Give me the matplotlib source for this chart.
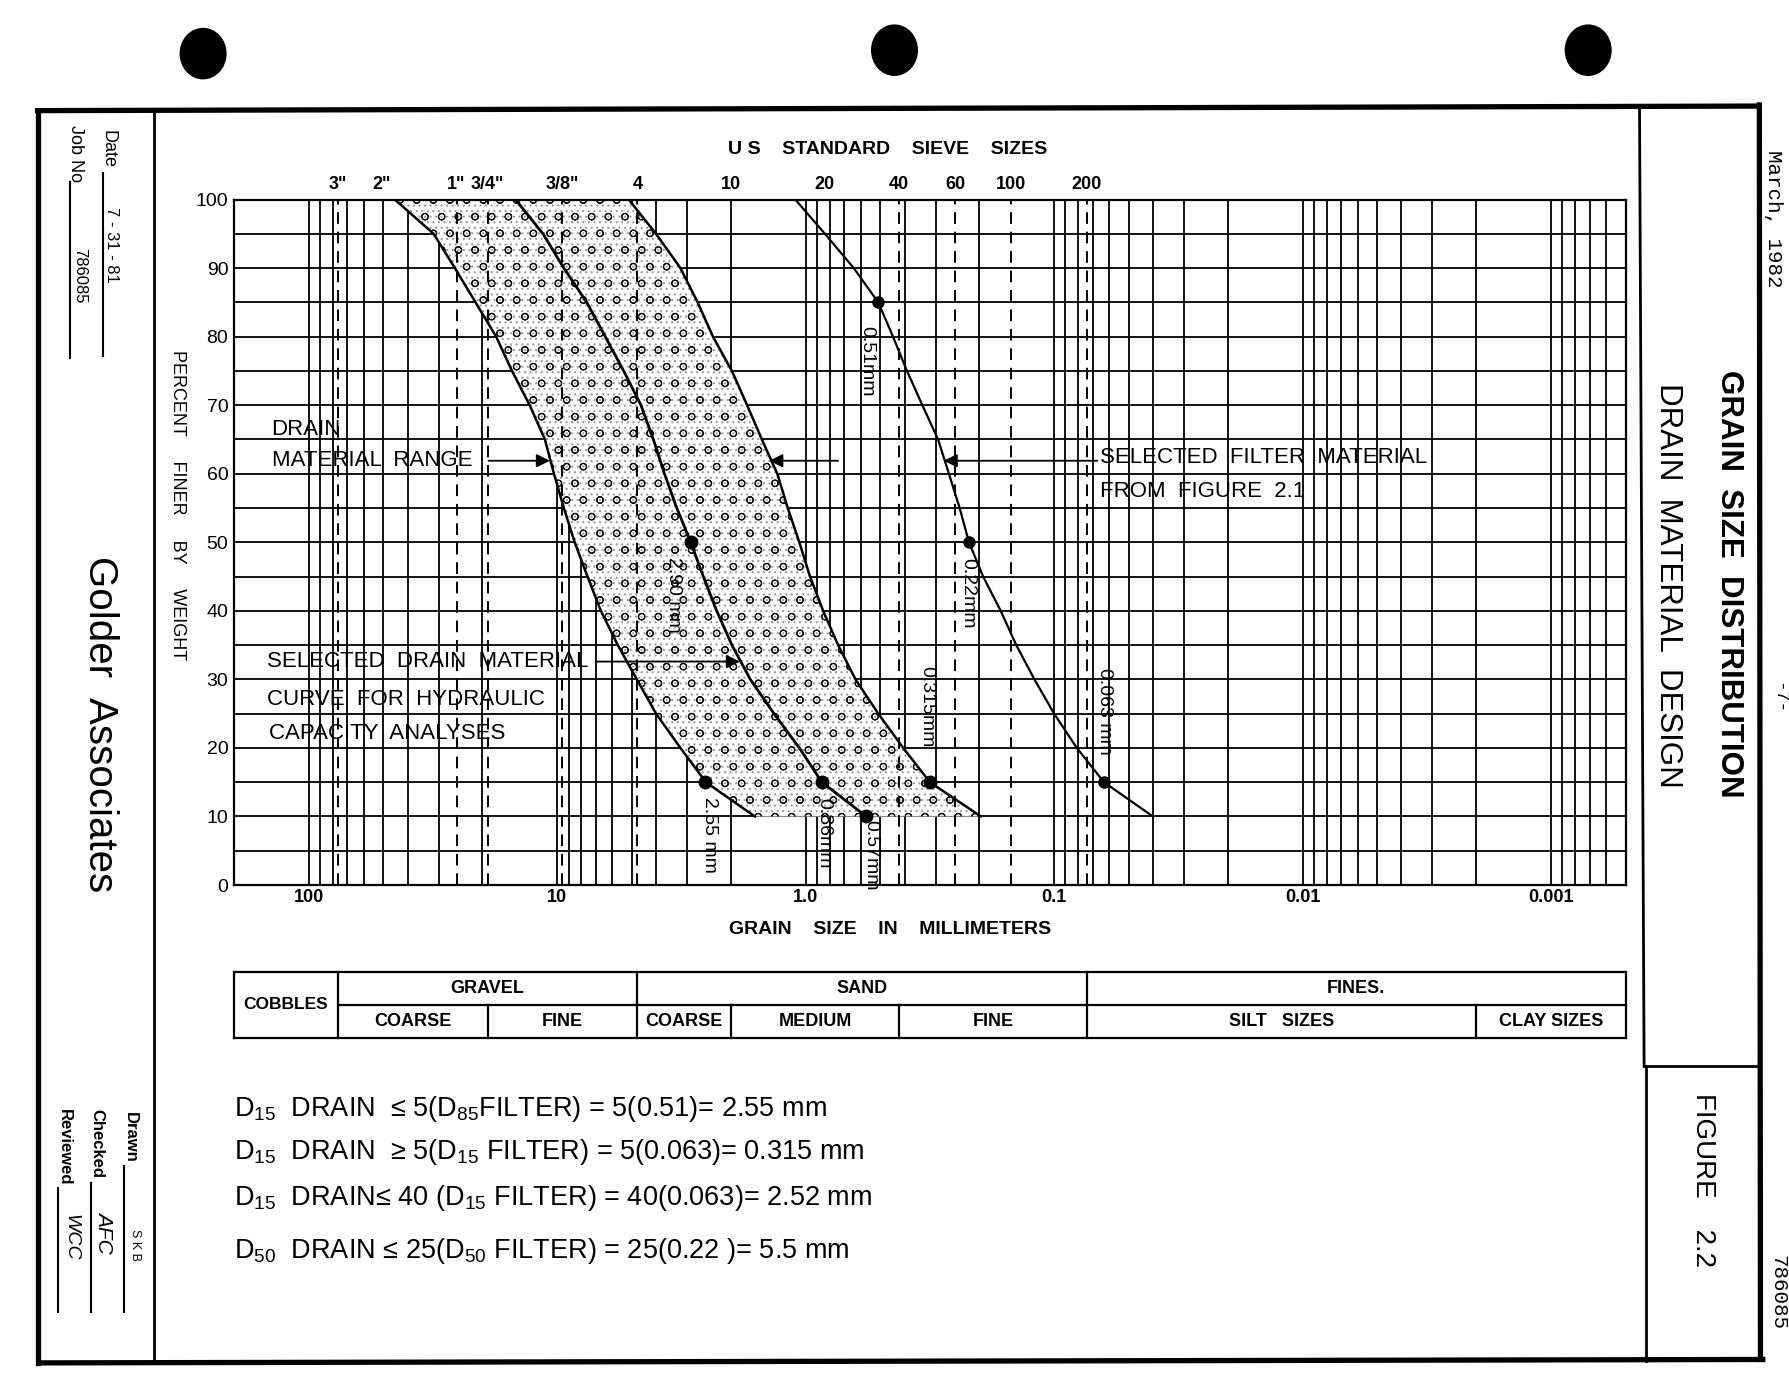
import numpy as np
import matplotlib
matplotlib.use("Agg")
import matplotlib.pyplot as plt
from matplotlib import font_manager
from matplotlib.lines import Line2D
from matplotlib.patches import Ellipse
from matplotlib.ticker import LogLocator, NullFormatter, MultipleLocator, FixedLocator

# ---------------- data ----------------
pct = [100, 95, 90, 85, 80, 75, 70, 65, 60, 55, 50, 45, 40, 35, 30, 25, 20, 15, 10]
band_coarse = [45.0, 31.4, 25.8, 21.3, 17.6, 15.2, 12.9, 11.2, 10.3, 9.4, 8.5, 7.55, 6.67, 5.7, 4.78, 4.0, 3.19, 2.52, 1.6]
band_fine = [5.15, 4.0, 3.19, 2.72, 2.36, 1.98, 1.72, 1.50, 1.30, 1.18, 1.06, 0.96, 0.85, 0.74, 0.63, 0.51, 0.405, 0.316, 0.197]
selected_drain = [14.7, 11.4, 9.4, 7.6, 6.4, 5.4, 4.6, 4.1, 3.7, 3.3, 2.9, 2.58, 2.28, 1.98, 1.67, 1.34, 1.06, 0.86, 0.57]
selected_filter = [1.1, 0.836, 0.64, 0.51, 0.445, 0.391, 0.339, 0.293, 0.265, 0.24, 0.22, 0.193, 0.164, 0.142, 0.120, 0.100, 0.081, 0.063, 0.040]

filter_pts_x = [0.51, 0.22, 0.063]
filter_pts_y = [85, 50, 15]
drain_pts_x = [2.90, 2.55, 0.86, 0.57, 0.315]
drain_pts_y = [50, 15, 15, 10, 15]

point_labels = ["0.51mm", "2.90 mm", "0.22mm", "0.315mm", "0.063 mm", "2.55 mm", "0.86mm", "0.57mm"]
point_label_x = [0.566, 3.41, 0.223, 0.324, 0.0628, 2.43, 0.845, 0.548]
point_label_y = [76.4, 42.3, 42.6, 26.0, 25.3, 7.3, 7.6, 4.3]

sieve_labels = ['3"', '2"', '1"', '3/4"', '3/8"', '4', '10', '20', '40', '60', '100', '200']
sieve_sizes = [76.2, 50.8, 25.4, 19.05, 9.525, 4.76, 2.0, 0.84, 0.42, 0.25, 0.149, 0.074]
dashed_sieves = [76.2, 25.4, 19.05, 9.525, 4.76, 0.42, 0.25, 0.149, 0.074]

xtick_vals = [100, 10, 1.0, 0.1, 0.01, 0.001]
xtick_labels = ["100", "10", "1.0", "0.1", "0.01", "0.001"]
ytick_vals = [0, 10, 20, 30, 40, 50, 60, 70, 80, 90, 100]

# soil classification table
top_groups = [("GRAVEL", 76.2, 4.76), ("SAND", 4.76, 0.074), ("FINES.", 0.074, 0.0005)]
bottom_groups = [("COARSE", 76.2, 19.05), ("FINE", 19.05, 4.76), ("COARSE", 4.76, 2.0),
                 ("MEDIUM", 2.0, 0.42), ("FINE", 0.42, 0.074), ("SILT   SIZES", 0.074, 0.002),
                 ("CLAY SIZES", 0.002, 0.0005)]

formulas = [
    "D$_{15}$  DRAIN  \u2264 5(D$_{85}$FILTER) = 5(0.51)= 2.55 mm",
    "D$_{15}$  DRAIN  \u2265 5(D$_{15}$ FILTER) = 5(0.063)= 0.315 mm",
    "D$_{15}$  DRAIN\u2264 40 (D$_{15}$ FILTER) = 40(0.063)= 2.52 mm",
    "D$_{50}$  DRAIN \u2264 25(D$_{50}$ FILTER) = 25(0.22 )= 5.5 mm",
]

# ---------------- fonts ----------------
names = {f.name for f in font_manager.fontManager.ttflist}
SANS = 'Liberation Sans' if 'Liberation Sans' in names else 'DejaVu Sans'
NARROW = 'Liberation Sans Narrow' if 'Liberation Sans Narrow' in names else SANS
MONO = 'Liberation Mono' if 'Liberation Mono' in names else 'DejaVu Sans Mono'
plt.rcParams['font.family'] = [SANS, 'DejaVu Sans']
plt.rcParams['mathtext.fontset'] = 'custom'
plt.rcParams['mathtext.rm'] = SANS
plt.rcParams['mathtext.it'] = SANS + ':italic'
plt.rcParams['mathtext.bf'] = SANS + ':bold'
plt.rcParams['mathtext.default'] = 'regular'
plt.rcParams['hatch.linewidth'] = 0.8

W, H = 1568.0, 1210.0


def fx(x):
    return x / W


def fy(y):
    return 1 - y / H


fig = plt.figure(figsize=(17.89, 13.80), dpi=100)
fig.patch.set_facecolor('white')


def fline(xs, ys, lw=3.0):
    fig.add_artist(Line2D([fx(v) for v in xs], [fy(v) for v in ys],
                          transform=fig.transFigure, color='black', lw=lw))


# binder holes
for (hx, hy) in [(178, 47), (784, 44), (1392, 44)]:
    fig.add_artist(Ellipse((fx(hx), fy(hy)), 40 / W, 44 / H, transform=fig.transFigure,
                           color='black'))

# outer frame
fline([33, 1541], [97, 93], lw=3.8)
fline([33, 33], [97, 1195], lw=3.8)
fline([36, 1545], [1195, 1192], lw=3.8)
fline([1542, 1543], [92, 1192], lw=3.8)
fline([135, 135], [97, 1195], lw=2.0)
fline([1437, 1441], [95, 935], lw=2.0)
fline([1441, 1542], [935, 935], lw=2.0)
fline([1443, 1443], [935, 1193], lw=2.0)

# ---------------- main chart ----------------
ax = fig.add_axes([fx(205), fy(776), (1425 - 205) / W, (776 - 175) / H])
ax.set_xscale('log')
ax.set_xlim(200, 0.0005)
ax.set_ylim(0, 100)
ax.xaxis.set_major_locator(FixedLocator(xtick_vals))
ax.set_xticks(xtick_vals)
ax.set_xticklabels(xtick_labels, fontsize=13, fontweight='bold', family=NARROW)
ax.xaxis.set_minor_locator(LogLocator(base=10, subs=np.arange(1, 10)))
ax.xaxis.set_minor_formatter(NullFormatter())
ax.set_yticks(ytick_vals)
ax.set_yticklabels([str(v) for v in ytick_vals], fontsize=14)
ax.yaxis.set_minor_locator(MultipleLocator(5))
ax.tick_params(which='both', length=0)
ax.tick_params(axis='x', pad=3)
ax.tick_params(axis='y', pad=4)
ax.grid(which='both', color='black', lw=1.3)
for s in ax.spines.values():
    s.set_linewidth(1.6)

# sieve dashed lines
for sv in dashed_sieves:
    ax.axvline(sv, color='black', lw=1.4, ls=(0, (6, 4)), zorder=2.5)

# sieve labels on top
for lab, sv in zip(sieve_labels, sieve_sizes):
    ax.text(sv, 1.0215, lab, transform=ax.get_xaxis_transform(), ha='center', va='center',
            fontsize=13, fontweight='bold', family=NARROW)

# band fill (stipple + small circles)
ax.fill_betweenx(pct, band_coarse, band_fine, facecolor='white', edgecolor='#9a9a9a',
                 hatch='...', linewidth=0, zorder=2.2)
ax.fill_betweenx(pct, band_coarse, band_fine, facecolor='none', edgecolor='#111111',
                 hatch='o', linewidth=0, zorder=2.3)

# curves
ax.plot(band_coarse, pct, color='black', lw=1.8, zorder=4)
ax.plot(band_fine, pct, color='black', lw=1.8, zorder=4)
ax.plot(selected_drain, pct, color='black', lw=2.0, zorder=4)
ax.plot(selected_filter, pct, color='black', lw=1.6, zorder=4)
ax.plot(filter_pts_x, filter_pts_y, 'o', color='black', ms=8, zorder=5)
ax.plot(drain_pts_x, drain_pts_y, 'o', color='black', ms=9, zorder=5)

for lab, lx, ly in zip(point_labels, point_label_x, point_label_y):
    ax.text(lx, ly, lab, rotation=270, ha='center', va='center', fontsize=14,
            family=NARROW, zorder=6, clip_on=False)

# annotations
afs = 16
ax.text(141, 66.4, "DRAIN", fontsize=afs, family=NARROW, va='center', ha='left', zorder=6)
ax.text(141, 61.9, "MATERIAL  RANGE", fontsize=afs, family=NARROW, va='center', ha='left', zorder=6)
ap = dict(arrowstyle='-|>', color='black', lw=1.3, mutation_scale=20, shrinkA=0, shrinkB=0)
ax.annotate('', xy=(10.7, 61.9), xytext=(18.9, 61.9), arrowprops=ap, zorder=6)
ax.annotate('', xy=(1.40, 61.9), xytext=(0.74, 61.9), arrowprops=ap, zorder=6)
ax.annotate('', xy=(0.278, 61.9), xytext=(0.0669, 61.9), arrowprops=ap, zorder=6)
ax.text(0.0652, 62.4, "SELECTED  FILTER  MATERIAL", fontsize=afs, family=NARROW, va='center',
        ha='left', zorder=6)
ax.text(0.0652, 57.4, "FROM  FIGURE  2.1", fontsize=afs, family=NARROW, va='center', ha='left',
        zorder=6)
ax.text(147, 32.6, "SELECTED  DRAIN  MATERIAL", fontsize=afs, family=NARROW, va='center',
        ha='left', zorder=6)
ax.text(147, 27.1, "CURVE  FOR  HYDRAULIC", fontsize=afs, family=NARROW, va='center', ha='left',
        zorder=6)
ax.text(145, 22.1, "CAPACITY  ANALYSES", fontsize=afs, family=NARROW, va='center', ha='left',
        zorder=6)
ax.annotate('', xy=(1.84, 32.6), xytext=(7.0, 32.6), arrowprops=ap, zorder=6)

fig.text(fx(778), fy(131), "U S    STANDARD    SIEVE    SIZES", ha='center', va='center',
         fontsize=14, fontweight='bold', family=NARROW)
fig.text(fx(780), fy(815), "GRAIN    SIZE    IN    MILLIMETERS", ha='center', va='center',
         fontsize=14, fontweight='bold', family=NARROW)
fig.text(fx(156), fy(443), "PERCENT     FINER     BY     WEIGHT", rotation=270, ha='center',
         va='center', fontsize=13, family=NARROW)

# ---------------- classification table ----------------
tax = fig.add_axes([fx(205), fy(910), (1425 - 205) / W, (910 - 852) / H])
tax.set_xscale('log')
tax.set_xlim(200, 0.0005)
tax.set_ylim(0, 2)
tax.axis('off')
tlw = 1.6
tax.plot([200, 0.0005], [2, 2], color='black', lw=tlw, clip_on=False)
tax.plot([200, 0.0005], [0, 0], color='black', lw=tlw, clip_on=False)
tax.plot([76.2, 0.0005], [1, 1], color='black', lw=tlw, clip_on=False)
for b in [200, 76.2, 4.76, 0.074, 0.0005]:
    tax.plot([b, b], [0, 2], color='black', lw=tlw, clip_on=False)
for b in [19.05, 2.0, 0.42, 0.002]:
    tax.plot([b, b], [0, 1], color='black', lw=tlw, clip_on=False)
tax.text(np.sqrt(200 * 76.2), 1.0, "COBBLES", ha='center', va='center', fontsize=12.5,
         fontweight='bold', family=NARROW)
for lab, a, b in top_groups:
    tax.text(np.sqrt(a * b), 1.5, lab, ha='center', va='center', fontsize=13,
             fontweight='bold', family=NARROW)
for lab, a, b in bottom_groups:
    tax.text(np.sqrt(a * b), 0.48, lab, ha='center', va='center', fontsize=13,
             fontweight='bold', family=NARROW)

# ---------------- formulas ----------------
for s, yy in zip(formulas, [972, 1010, 1050, 1097]):
    fig.text(fx(205), fy(yy), s, ha='left', va='center', fontsize=19.5, family=SANS)

# ---------------- left title strip ----------------
fig.text(fx(95), fy(131), "Date", rotation=270, ha='center', va='center', fontsize=13)
fline([90, 90], [152, 312], lw=1.5)
fig.text(fx(98), fy(215), "7 - 31 - 81", rotation=270, ha='center', va='center', fontsize=12)
fig.text(fx(66), fy(135), "Job No", rotation=270, ha='center', va='center', fontsize=13)
fline([61, 61], [160, 314], lw=1.5)
fig.text(fx(70), fy(242), "786085", rotation=270, ha='center', va='center', fontsize=12)
fig.text(fx(88), fy(635), "Golder  Associates", rotation=270, ha='center', va='center',
         fontsize=29)
fig.text(fx(114), fy(997), "Drawn", rotation=270, ha='center', va='center', fontsize=12,
         fontweight='bold')
fline([109, 109], [1022, 1150], lw=1.5)
fig.text(fx(118), fy(1092), "S K B", rotation=270, ha='center', va='center', fontsize=9)
fig.text(fx(85), fy(1003), "Checked", rotation=270, ha='center', va='center', fontsize=12,
         fontweight='bold')
fline([80, 80], [1037, 1150], lw=1.5)
fig.text(fx(92), fy(1080), "AFC", rotation=270, ha='center', va='center', fontsize=15,
         style='italic')
fig.text(fx(56), fy(1006), "Reviewed", rotation=270, ha='center', va='center', fontsize=12,
         fontweight='bold')
fline([51, 51], [1042, 1150], lw=1.5)
fig.text(fx(62), fy(1085), "WCC", rotation=270, ha='center', va='center', fontsize=14,
         style='italic')

# ---------------- right title strip ----------------
fig.text(fx(1515), fy(512), "GRAIN  SIZE  DISTRIBUTION", rotation=270, ha='center',
         va='center', fontsize=22.5, fontweight='bold', family=NARROW)
fig.text(fx(1462), fy(513), "DRAIN  MATERIAL  DESIGN", rotation=270, ha='center',
         va='center', fontsize=22.5, family=NARROW)
fig.text(fx(1493), fy(1035), "FIGURE    2.2", rotation=270, ha='center', va='center',
         fontsize=20, family=NARROW)
fig.text(fx(1554), fy(192), "March, 1982", rotation=270, ha='center', va='center',
         fontsize=15, family=MONO)
fig.text(fx(1559), fy(612), "-7-", rotation=270, ha='center', va='center', fontsize=13,
         family=MONO)
fig.text(fx(1558), fy(1133), "786085", rotation=270, ha='center', va='center', fontsize=15,
         family=MONO)

fig.savefig("out.png", dpi=100, facecolor='white')
